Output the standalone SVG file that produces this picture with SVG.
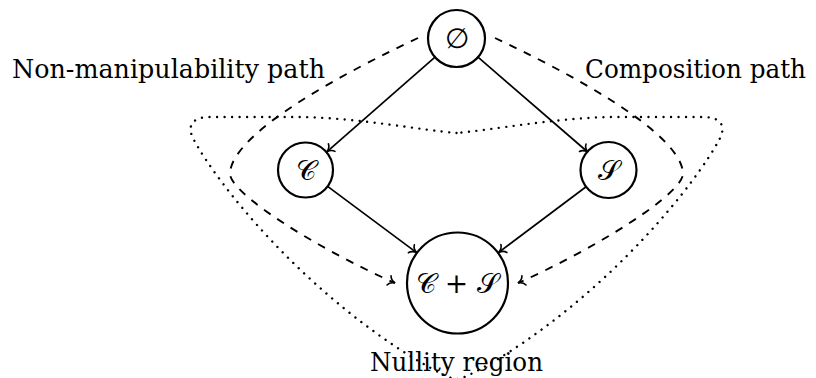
<svg xmlns="http://www.w3.org/2000/svg" width="816" height="378" viewBox="0 0 816 378">
<defs>
<marker id="to" markerUnits="userSpaceOnUse" viewBox="-10 -7 12 14" markerWidth="12" markerHeight="14" refX="0" refY="0" orient="auto">
<path d="M -6.5,-5 C -5.5,-2.2 -2.5,-0.6 0,0 C -2.5,0.6 -5.5,2.2 -6.5,5" fill="none" stroke="#000" stroke-width="1.6" stroke-linecap="round" stroke-dasharray="none"/>
</marker>
<style>
.node{fill:#fff;stroke:#000;stroke-width:2.2}
.lbl{font-size:26px;fill:#000}
.math{font-size:28px;fill:#000;text-anchor:middle;dominant-baseline:central}
.edge{fill:none;stroke:#000;stroke-width:1.7;marker-end:url(#to)}
.dash{fill:none;stroke:#000;stroke-width:1.9;stroke-dasharray:8 8;marker-end:url(#to)}
.dot{fill:none;stroke:#000;stroke-width:2.4;stroke-dasharray:0.01 7.5;stroke-linecap:round}
</style>
</defs>
<g id="region">
<path class="dot" d="M 456.5,133 C 420,130 360,118 300,117 L 210,117 C 190,117 187,128 194,140 C 215,180 300,290 420,362 C 440,373 450,379 456.5,379 C 463,379 473,373 493,362 C 613,290 698,180 719,140 C 726,128 723,117 703,117 L 613,117 C 553,118 493,130 456.5,133 Z"/>
</g>
<g id="connectors">
<line class="edge" x1="435" y1="57.2" x2="326.8" y2="151.9"/>
<line class="edge" x1="478" y1="57.1" x2="587.7" y2="152"/>
<line class="edge" x1="327.6" y1="186.4" x2="416.6" y2="252.6"/>
<line class="edge" x1="586.1" y1="186.8" x2="498.7" y2="252.4"/>
<path class="dash" d="M 418,38 C 350,70 235,130 230,172 C 226,192 320,250 395,283"/>
<path class="dash" d="M 495,38 C 563,70 678,130 683,172 C 687,192 593,250 518,283"/>
</g>
<g id="n-empty">
<circle class="node" cx="456.5" cy="38.5" r="28.5"/>
<text class="math" font-family="DejaVu Serif, serif" x="456.5" y="38">∅</text>
</g>
<g id="n-c">
<circle class="node" cx="305.5" cy="170" r="27.5"/>
<text class="math" font-family="DejaVu Serif, serif" x="305.5" y="170">𝒞</text>
</g>
<g id="n-s">
<circle class="node" cx="608.5" cy="170" r="28"/>
<text class="math" font-family="DejaVu Serif, serif" x="608.5" y="170">𝒮</text>
</g>
<g id="n-cs">
<circle class="node" cx="457.5" cy="283" r="50.5"/>
<text class="math" font-family="DejaVu Serif, serif" x="457.5" y="283">𝒞 + 𝒮</text>
</g>
<g id="labels">
<text class="lbl" font-family="DejaVu Serif, serif" x="12" y="78" textLength="313" lengthAdjust="spacingAndGlyphs">Non-manipulability path</text>
<text class="lbl" font-family="DejaVu Serif, serif" x="806" y="78" text-anchor="end" textLength="221" lengthAdjust="spacingAndGlyphs">Composition path</text>
<text class="lbl" font-family="DejaVu Serif, serif" x="456.5" y="371" text-anchor="middle" textLength="173" lengthAdjust="spacingAndGlyphs">Nullity region</text>
</g>
</svg>
